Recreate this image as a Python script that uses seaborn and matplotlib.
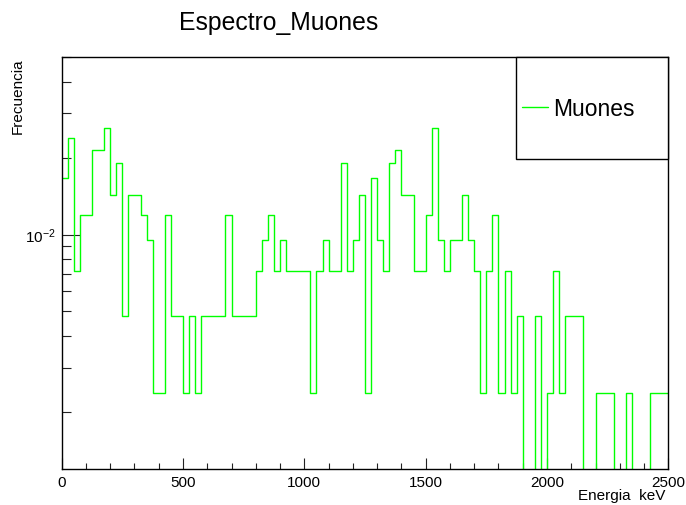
import numpy as np
import pandas as pd
import matplotlib
matplotlib.use("Agg")
import matplotlib.pyplot as plt
import seaborn as sns
from matplotlib.ticker import MultipleLocator, LogLocator, NullFormatter, LogFormatterSciNotation
from matplotlib.patches import Rectangle
from matplotlib.lines import Line2D

# ---- data (counts per 25 keV bin, 0-2500 keV) ----
counts = [7, 10, 3, 5, 5, 9, 9, 11, 6, 8,
          2, 6, 6, 5, 4, 1, 1, 5, 2, 2,
          1, 2, 1, 2, 2, 2, 2, 5, 2, 2,
          2, 2, 3, 4, 5, 3, 4, 3, 3, 3,
          3, 1, 3, 4, 3, 3, 8, 3, 4, 6,
          1, 7, 4, 3, 8, 9, 6, 6, 3, 3,
          5, 11, 4, 3, 4, 4, 6, 4, 3, 1,
          3, 5, 1, 3, 1, 2, 0, 0, 2, 0,
          1, 3, 1, 2, 2, 2, 0, 0, 1, 1,
          1, 0, 0, 1, 0, 0, 0, 1, 1, 1]
n_entries = 418.0
x_min, x_max, n_bins = 0.0, 2500.0, 100
series_label = "Muones"
title = "Espectro_Muones"
x_title = "Energia  keV"
y_title = "Frecuencia"

edges = np.linspace(x_min, x_max, n_bins + 1)
centers = 0.5 * (edges[:-1] + edges[1:])
df = pd.DataFrame({"energy": centers, "freq": np.array(counts, dtype=float) / n_entries})

sns.set_style("white")
plt.rcParams['font.family'] = ['Liberation Sans', 'DejaVu Sans']
plt.rcParams['mathtext.fontset'] = 'custom'
plt.rcParams['mathtext.rm'] = 'Liberation Sans'
plt.rcParams['mathtext.it'] = 'Liberation Sans:italic'
plt.rcParams['text.color'] = 'black'
plt.rcParams['xtick.color'] = 'black'
plt.rcParams['ytick.color'] = 'black'
plt.rcParams['axes.labelcolor'] = 'black'

W, H = 686, 506
fig = plt.figure(figsize=(W / 100, H / 100), dpi=100)
ax = fig.add_axes([61.7 / W, 1 - 470 / H, (668.3 - 61.7) / W, (470 - 58) / H])

sns.histplot(data=df, x="energy", weights="freq", bins=n_bins, binrange=(x_min, x_max),
             element="step", fill=False, color="#00ff00", linewidth=1.0, ax=ax,
             label=series_label)

ax.set_yscale('log')
ax.set_xlim(x_min, x_max)
ax.set_ylim(0.001197, 0.0500)

ax.xaxis.set_major_locator(MultipleLocator(500))
ax.xaxis.set_minor_locator(MultipleLocator(100))
ax.yaxis.set_major_locator(LogLocator(base=10))
ax.yaxis.set_minor_locator(LogLocator(base=10, subs=np.arange(2, 10)))
ax.yaxis.set_major_formatter(LogFormatterSciNotation())
ax.yaxis.set_minor_formatter(NullFormatter())

ax.tick_params(axis='both', which='both', direction='in', top=False, right=False,
               left=True, bottom=True, color='#222222', labelcolor='black',
               width=0.8, labelsize=11)
ax.tick_params(axis='x', which='major', length=8, pad=4)
ax.tick_params(axis='x', which='minor', length=4.3)
ax.tick_params(axis='y', which='major', length=13, pad=4)
ax.tick_params(axis='y', which='minor', length=6.5)
for s in ax.spines.values():
    s.set_color('black')
    s.set_linewidth(1.0)
ax.set_xlabel("")
ax.set_ylabel("")
ax.grid(False)

fig.text(279 / W, 1 - 23 / H, title, ha='center', va='center', fontsize=17.8, color='black')
fig.text(665 / W, 1 - 496 / H, x_title, ha='right', va='center', fontsize=11, color='black')
fig.text(18 / W, 1 - 58 / H, y_title, rotation=90, ha='center', va='top', fontsize=11,
         color='black')

# legend box
box = Rectangle((516 / W, 1 - 160 / H), 152 / W, 102 / H, transform=fig.transFigure,
                facecolor='white', edgecolor='black', linewidth=1.0, zorder=5,
                clip_on=False)
ax.add_patch(box)
handles, labels = ax.get_legend_handles_labels()
if not handles:
    handles = [Line2D([], [], color="#00ff00", linewidth=1.0)]
    labels = [series_label]
leg = ax.legend(handles, labels, loc='center left', bbox_to_anchor=(521.7 / W, 1 - 110 / H),
                bbox_transform=fig.transFigure, frameon=False, fontsize=16.5,
                handlelength=1.15, handletextpad=0.22, borderpad=0, borderaxespad=0,
                labelcolor='black')
leg.set_zorder(6)

fig.savefig("out.png", dpi=100)
